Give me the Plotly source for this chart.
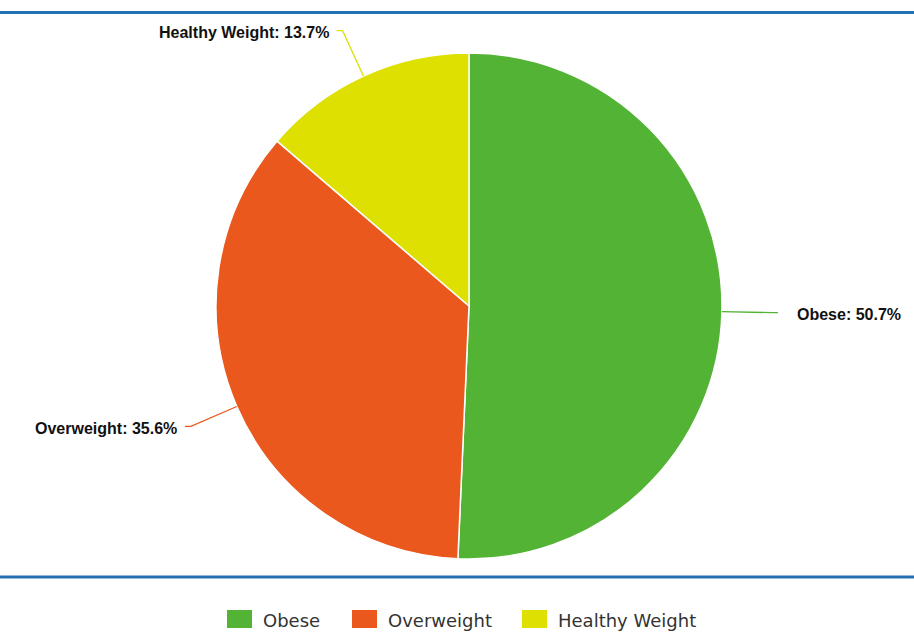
import math
import plotly.graph_objects as go

labels = ["Obese", "Overweight", "Healthy Weight"]
values = [50.7, 35.6, 13.7]
colors = ["#52b335", "#eb581e", "#dde000"]

W, H = 914, 633
CX, CY, R = 469, 306, 253  # pie center / radius in pixels (layout)

fig = go.Figure()
fig.add_trace(go.Pie(
    labels=labels, values=values, sort=False, direction="clockwise", rotation=0,
    marker=dict(colors=colors, line=dict(color="white", width=1.5)),
    textinfo="none", hoverinfo="label+percent", showlegend=False,
    domain=dict(x=[(CX - R) / W, (CX + R) / W], y=[1 - (CY + R) / H, 1 - (CY - R) / H]),
))

def px(x):
    return x / W

def py(y):
    return 1 - y / H

shapes = []
annotations = []
total = sum(values)
cum = 0.0
for lab, val, col in zip(labels, values, colors):
    mid = (cum + val / 2) / total * 2 * math.pi
    cum += val
    s, c = math.sin(mid), math.cos(mid)
    x0, y0 = CX + R * s, CY - R * c
    x1, y1 = CX + (R + 50) * s, CY - (R + 50) * c
    side = 1 if s >= 0 else -1
    x2 = x1 + 6 * side
    gap = 17 if side > 0 else 6
    shapes.append(dict(type="path", xref="paper", yref="paper",
                       path=f"M {px(x0)},{py(y0)} L {px(x1)},{py(y1)} L {px(x2)},{py(y1)}",
                       line=dict(color=col, width=1.3)))
    annotations.append(dict(xref="paper", yref="paper", x=px(x2 + gap * side), y=py(y1 + 2),
                            text=f"<b>{lab}: {val}%</b>", showarrow=False,
                            xanchor="left" if side > 0 else "right", yanchor="middle",
                            font=dict(family="Liberation Sans, Arial, sans-serif", size=16, color="#111111")))

# blue rules
for yy in [12.5, 577]:
    shapes.append(dict(type="line", xref="paper", yref="paper", x0=0, x1=1, y0=py(yy), y1=py(yy),
                       line=dict(color="#2470b5", width=3)))

# legend
leg_x = [227, 352, 522]
for lab, col, lx in zip(labels, colors, leg_x):
    shapes.append(dict(type="rect", xref="paper", yref="paper", x0=px(lx), x1=px(lx + 25),
                       y0=py(628), y1=py(610), fillcolor=col, line=dict(width=0)))
    annotations.append(dict(xref="paper", yref="paper", x=px(lx + 34), y=py(620), text=lab,
                            showarrow=False, xanchor="left", yanchor="middle",
                            font=dict(family="DejaVu Sans, sans-serif", size=18, color="#333333")))

fig.update_layout(width=W, height=H, margin=dict(l=0, r=0, t=0, b=0),
                  paper_bgcolor="white", plot_bgcolor="white",
                  shapes=shapes, annotations=annotations)
fig.write_html("out.html")
